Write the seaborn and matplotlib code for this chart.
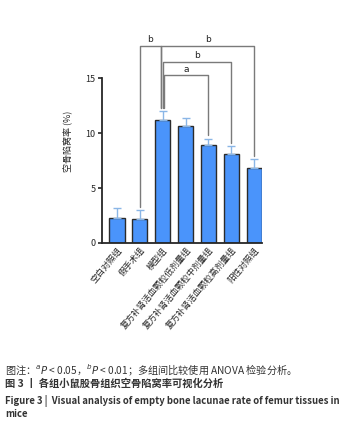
import matplotlib.pyplot as plt
import pandas as pd
import seaborn as sns

groups = ['空白对照组', '假手术组', '模型组', '复方补肾活血颗粒低剂量组',
          '复方补肾活血颗粒中剂量组', '复方补肾活血颗粒高剂量组', '阳性对照组']
rate = [2.3, 2.2, 11.15, 10.65, 8.9, 8.1, 6.8]
sd = [0.9, 0.8, 0.85, 0.75, 0.6, 0.7, 0.8]
yticks = [0, 5, 10, 15]

# comparisons: (left group, right group, bracket height, label)
comparisons = [(1, 2, 17.9, 'b'), (2, 6, 17.9, 'b'), (2, 5, 16.45, 'b'), (2, 4, 15.25, 'a')]

df = pd.DataFrame({'group': groups, 'rate': rate})

sns.set_style('ticks')
plt.rcParams['font.family'] = ['Noto Sans CJK SC', 'DejaVu Sans']

fig = plt.figure(figsize=(3.48, 4.32), dpi=100)
ax = fig.add_axes([0.293, 0.4375, 0.46, 0.471])

sns.barplot(data=df, x='group', y='rate', color='#4a94fb', width=0.66,
            edgecolor='#2b2b2b', linewidth=1.0, saturation=1, ax=ax)
ax.errorbar(range(len(groups)), rate, yerr=[[0] * len(sd), sd], fmt='none',
            ecolor='#8ab6e6', elinewidth=1.0, capsize=3, capthick=1.0, zorder=1)

# significance brackets
offsets = {6: -0.07, 5: 0.0, 4: 0.07}
for left, right, h, lab in comparisons:
    if left == 1:
        x0, x1 = left, right - 0.07
    else:
        x0, x1 = left + offsets[right], right
    y0 = rate[left] + sd[left] + 0.3
    y1 = rate[right] + sd[right] + 0.3
    ax.plot([x0, x0, x1, x1], [y0, h, h, y1], color='#7a7a7a', lw=1.0, clip_on=False)
    ax.text((x0 + x1) / 2, h + 0.15, lab, ha='center', va='bottom',
            fontsize=6.5, color='#222222', family='DejaVu Sans')

ax.set_ylim(0, 18.5)
ax.set_xlim(-0.66, 6.35)
ax.set_yticks(yticks)
ax.tick_params(axis='y', labelsize=6.5, width=1.2, length=3, pad=1.5)
ax.tick_params(axis='x', length=0, pad=2)
ax.set_xticks(range(len(groups)))
ax.set_xticklabels(groups, rotation=50, ha='right', rotation_mode='anchor', fontsize=6.2)
ax.set_xlabel('')
ax.set_ylabel('空骨陷窝率 (%)', fontsize=6.5, labelpad=9)
sns.despine(ax=ax)
ax.spines['left'].set_bounds(0, 15)
ax.spines['left'].set_linewidth(1.3)
ax.spines['bottom'].set_linewidth(1.3)

fig.text(0.015, 0.142, '图注：$^{a}$$P$ < 0.05，$^{b}$$P$ < 0.01；多组间比较使用 ANOVA 检验分析。',
         fontsize=7.3, color='#333333', va='center')
fig.text(0.015, 0.111, '图 3 丨 各组小鼠股骨组织空骨陷窝率可视化分析',
         fontsize=7.4, color='#333333', fontweight='bold', va='center')
fig.text(0.015, 0.072, 'Figure 3 |  Visual analysis of empty bone lacunae rate of femur tissues in',
         fontsize=6.85, color='#333333', fontweight='bold', va='center')
fig.text(0.015, 0.042, 'mice', fontsize=6.85, color='#333333', fontweight='bold', va='center')

plt.savefig('out.png', dpi=100)
